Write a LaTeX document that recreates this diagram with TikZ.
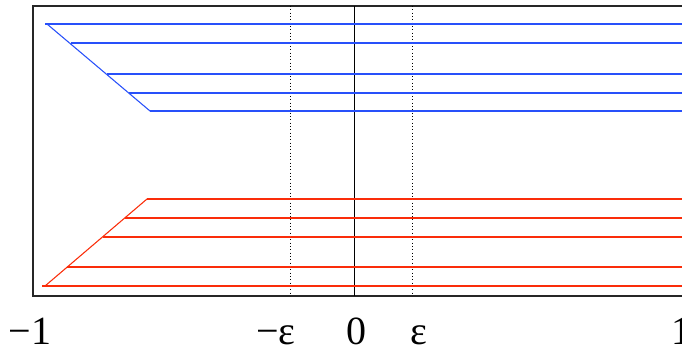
\documentclass[tikz,border=0pt]{standalone}
\usepackage{fontspec}
\setmainfont{Liberation Serif}
\definecolor{upblue}{RGB}{40,80,250}
\definecolor{lowred}{RGB}{250,45,10}
\begin{document}
\begin{tikzpicture}[x=0.75pt, y=-0.75pt,
  frame/.style={draw=black!85, line width=0.8pt},
  axisline/.style={black, line width=0.6pt},
  guide/.style={black, dotted, line width=0.5pt},
  blueline/.style={upblue, line width=0.8pt},
  redline/.style={lowred, line width=0.8pt},
  ticklbl/.style={font=\fontsize{30}{30}\selectfont, inner sep=0pt, anchor=base}
]
  \useasboundingbox (0,0) rectangle (682,352);
  \clip (0,0) rectangle (682,352);
  % frame and vertical guides
  \draw[frame] (700,6) -| (33,296) -- (700,296);
  \draw[axisline] (354,6) -- (354,296);
  \draw[guide] (290,6) -- (290,296);
  \draw[guide] (412,6) -- (412,296);
  % upper (blue) family
  \foreach \xs/\ys in {45/24, 71/43, 107/74, 129/93, 150/111}
    \draw[blueline] (\xs,\ys) -- (700,\ys);
  \draw[blueline] (47,24) -- (150,111);
  % lower (red) family
  \foreach \xs/\ys in {147/199, 125/218, 103/237, 67/267, 42/286}
    \draw[redline] (\xs,\ys) -- (700,\ys);
  \draw[redline] (45,286) -- (147,199);
  % tick labels
  \node[ticklbl] (lblmone) at (30,345) {−1};
  \node[ticklbl] (lblmeps) at (276,345) {−ε};
  \node[ticklbl] (lblzero) at (356,345) {0};
  \node[ticklbl] (lbleps)  at (419,345) {ε};
  \node[ticklbl, anchor=base west] (lblone) at (671,345) {1};
\end{tikzpicture}
\end{document}
